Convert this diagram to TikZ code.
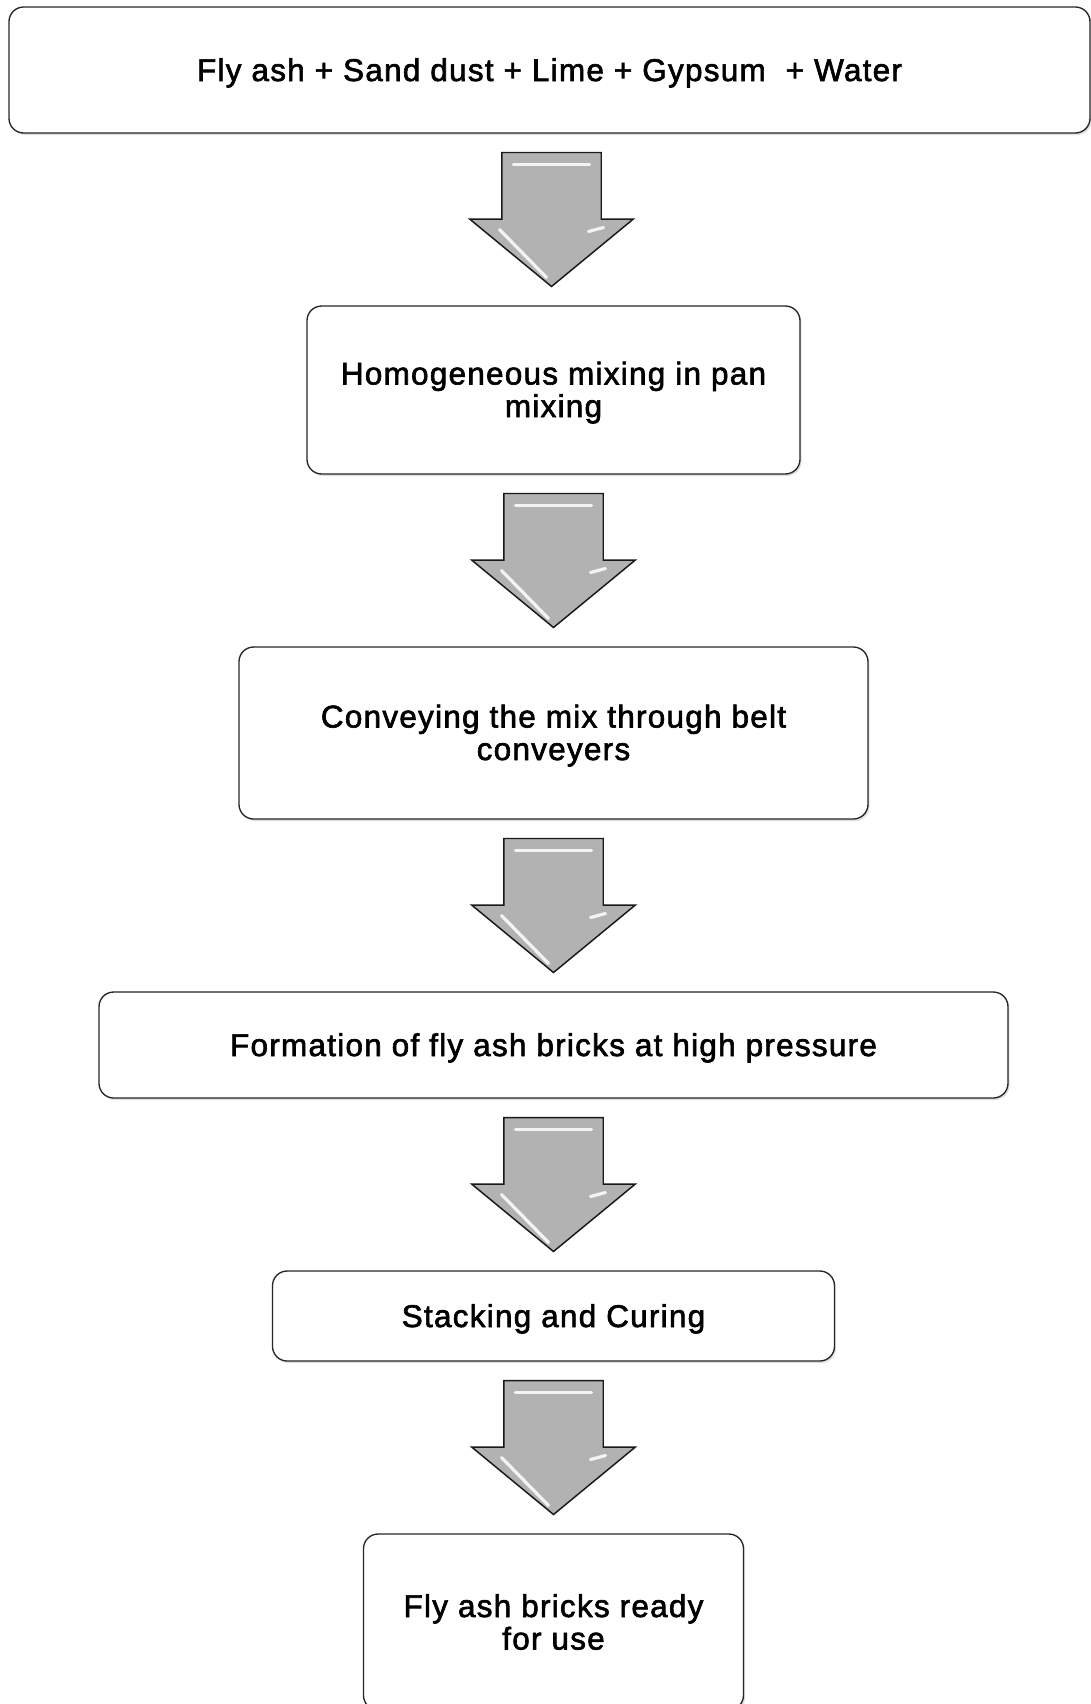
\documentclass[tikz,border=0pt]{standalone}
\usepackage{fontspec}
\setmainfont{Liberation Sans}[LetterSpace=4,FakeBold=2]
\usetikzlibrary{positioning}
\usetikzlibrary{calc}
\usetikzlibrary{shapes.arrows}
\usetikzlibrary{shadows}
\tikzset{%
  stepbox/.style = {rectangle,rounded corners=11pt,draw=black!85,line width=1pt,
        fill=white,align=center,outer sep=0pt,inner sep=4pt,
        font=\fontsize{23.6}{24.4}\selectfont,
        execute at begin node={\rule{0pt}{21.4pt}},
        drop shadow={opacity=0.25,shadow xshift=1.2pt,shadow yshift=-1.5pt}},
  flowarrow/.style = {single arrow,draw=black!90,line width=1.1pt,fill=gray!60,
        minimum height=100.5pt,inner xsep=0pt,inner ysep=36.75pt,
        single arrow head extend=24pt,single arrow tip angle=101,
        outer sep=0pt,rotate=-90,anchor=tail},
  gloss/.style = {white,line width=2.4pt,line cap=round,opacity=0.85}
}
\newcommand{\arrowgloss}[1]{%
  \draw[gloss] ([shift={(-38,12)}]#1.tail) -- ([shift={(38,12)}]#1.tail);
  \draw[gloss] ([shift={(-52,77)}]#1.tail) -- ([shift={(-5,125)}]#1.tail);
  \draw[gloss] ([shift={(37,79)}]#1.tail) -- ([shift={(52,75)}]#1.tail);
}

\begin{document}
\begin{tikzpicture}[x=0.75pt,y=-0.75pt,node distance=129.75pt]
   \useasboundingbox (0,0) rectangle (1091,1704);

   \node[stepbox,minimum width=810.75pt,minimum height=94.5pt] (mix) at (549.5,70)
        {Fly ash + Sand dust + Lime + Gypsum \ + Water};
   \node[stepbox,minimum width=369.75pt,minimum height=126pt,text depth=1pt] (pan)
        [below=of mix,xshift=3pt] {Homogeneous mixing in pan\\mixing};
   \node[stepbox,minimum width=471.75pt,minimum height=129pt,text depth=1pt] (belt)
        [below=of pan] {Conveying the mix through belt\\conveyers};
   \node[stepbox,minimum width=681.75pt,minimum height=79.5pt] (press) [below=of belt]
        {Formation of fly ash bricks at high pressure};
   \node[stepbox,minimum width=421.5pt,minimum height=67.5pt] (cure) [below=of press]
        {Stacking and Curing};
   \node[stepbox,minimum width=285pt,minimum height=132pt] (ready) [below=of cure]
        {Fly ash bricks ready\\for use};

   \node[flowarrow] (a1) at ($(mix.south)!0.5!(pan.north)+(0,-67)$) {};
   \node[flowarrow] (a2) at ($(pan.south)!0.5!(belt.north)+(0,-67)$) {};
   \node[flowarrow] (a3) at ($(belt.south)!0.5!(press.north)+(0,-67)$) {};
   \node[flowarrow] (a4) at ($(press.south)!0.5!(cure.north)+(0,-67)$) {};
   \node[flowarrow] (a5) at ($(cure.south)!0.5!(ready.north)+(0,-67)$) {};

   \arrowgloss{a1}
   \arrowgloss{a2}
   \arrowgloss{a3}
   \arrowgloss{a4}
   \arrowgloss{a5}
\end{tikzpicture}
\end{document}
